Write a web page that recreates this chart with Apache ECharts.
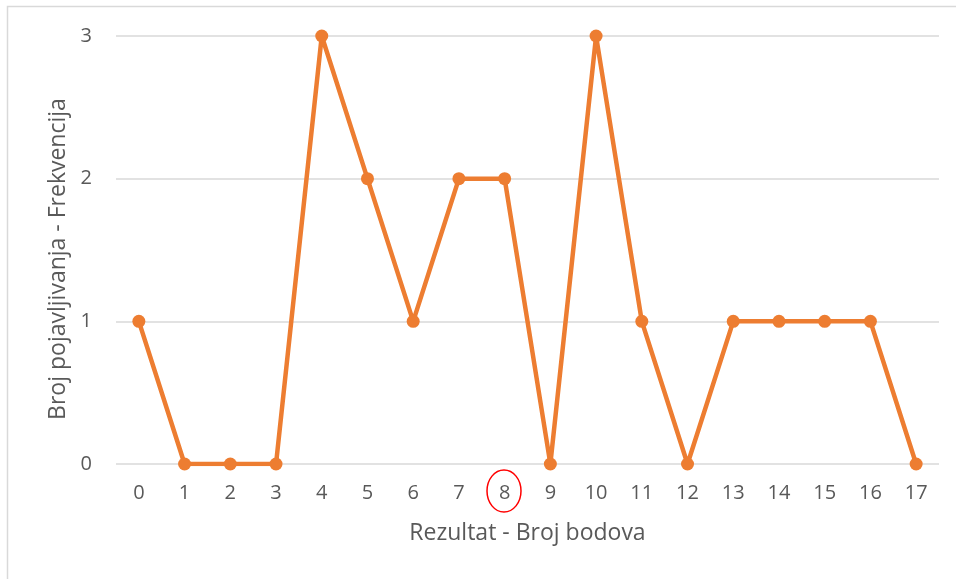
<!DOCTYPE html>
<html>
<head>
<meta charset="utf-8">
<script src="https://cdn.jsdelivr.net/npm/echarts@6/dist/echarts.min.js"></script>
<style>
  html, body { margin: 0; padding: 0; background: #fff; }
  #chart { width: 956px; height: 579px; }
</style>
</head>
<body>
<div id="chart"></div>
<script>
// rezultat (broj bodova) i frekvencija
const scores = ['0', '1', '2', '3', '4', '5', '6', '7', '8', '9', '10', '11', '12', '13', '14', '15', '16', '17']
const frequency = [1, 0, 0, 0, 3, 2, 1, 2, 2, 0, 3, 1, 0, 1, 1, 1, 1, 0]
const yTicks = [0, 1, 2, 3]

const textColor = '#595959'
const font = '"Open Sans", "Noto Sans", sans-serif'

const chart = echarts.init(document.getElementById('chart'))

chart.setOption({
  animation: false,
  backgroundColor: '#fff',
  grid: {
    left: 116,
    right: 17,
    top: 36,
    bottom: 115
  },
  xAxis: {
    type: 'category',
    data: scores,
    boundaryGap: true,
    name: 'Rezultat - Broj bodova',
    nameLocation: 'middle',
    nameGap: 58,
    nameTextStyle: { color: textColor, fontSize: 23, fontFamily: font },
    axisLine: { show: false },
    axisTick: { show: false },
    axisLabel: { color: textColor, fontSize: 20, fontFamily: font, margin: 19 }
  },
  yAxis: {
    type: 'value',
    min: yTicks[0],
    max: yTicks[yTicks.length - 1],
    interval: 1,
    name: 'Broj pojavljivanja - Frekvencija',
    nameLocation: 'middle',
    nameGap: 43,
    nameTextStyle: { color: textColor, fontSize: 23, fontFamily: font, padding: [0, 18, 0, 0] },
    axisLine: { show: false },
    axisTick: { show: false },
    axisLabel: { color: textColor, fontSize: 20, fontFamily: font, margin: 24 },
    splitLine: { lineStyle: { color: '#D9D9D9', width: 1.5 } }
  },
  series: [
    {
      type: 'line',
      data: frequency,
      symbol: 'circle',
      symbolSize: 13,
      itemStyle: { color: '#ED7D31' },
      lineStyle: { color: '#ED7D31', width: 4.5 }
    }
  ],
  graphic: [
    // okvir grafikona (vidljivi samo lijevi i gornji rub)
    {
      type: 'rect',
      shape: { x: 7.5, y: 6.5, width: 1200, height: 1200 },
      style: { fill: 'none', stroke: '#D9D9D9', lineWidth: 1.5 },
      silent: true
    },
    // crveni krug oko oznake 8
    {
      type: 'ellipse',
      shape: { cx: 504, cy: 491, rx: 17, ry: 21 },
      style: { fill: 'none', stroke: '#FF0000', lineWidth: 1.5 },
      silent: true
    }
  ]
})
</script>
</body>
</html>
